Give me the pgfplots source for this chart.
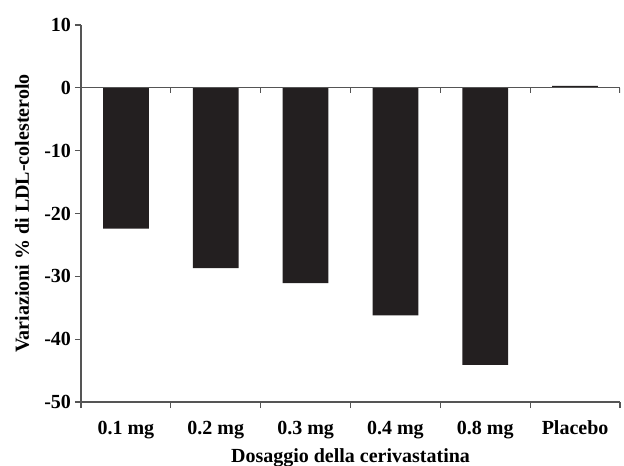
\documentclass[border=0pt]{standalone}
\usepackage{fontspec}
\setmainfont{Liberation Serif}
\usepackage{pgfplots}
\pgfplotsset{compat=1.18}
\definecolor{barfill}{HTML}{231F20}
\definecolor{axisgray}{HTML}{555555}
\begin{document}
\begin{tikzpicture}
\begin{axis}[
    scale only axis,
    width=269.5pt, height=188.5pt,
    ybar, bar width=0.51,
    xmin=-0.5, xmax=5.5,
    ymin=-50, ymax=10,
    axis x line*=bottom, axis y line*=left,
    axis line style={axisgray, line width=0.6pt},
    tick style={axisgray, line width=0.6pt},
    tick align=outside,
    major tick length=3pt,
    xtick={-0.5,0.5,1.5,2.5,3.5,4.5,5.5}, xticklabels={,,,,,,},
    extra x ticks={0,1,2,3,4,5},
    extra x tick labels={0.1 mg,0.2 mg,0.3 mg,0.4 mg,0.8 mg,Placebo},
    extra x tick style={major tick length=0pt, xticklabel style={yshift=-6pt}},
    ytick={-50,-40,...,10},
    yticklabels={-50,-40,-30,-20,-10,0,10},
    yticklabel style={xshift=1.5pt},
    ticklabel style={font=\bfseries\fontsize{10}{12}\selectfont},
    label style={font=\bfseries\fontsize{10}{12}\selectfont},
    xlabel={Dosaggio della cerivastatina},
    ylabel={Variazioni \% di LDL-colesterolo},
    xlabel style={at={(axis description cs:0.5,-0.148)}, anchor=center},
    ylabel style={at={(axis description cs:-0.1095,0.5)}, anchor=center},
]
\addplot[fill=barfill, draw=none] coordinates {
    (0,-22.4) (1,-28.7) (2,-31.1) (3,-36.2) (4,-44.1) (5,0.3)
};
\draw[axisgray, line width=0.6pt] (axis cs:-0.5,0) -- (axis cs:5.5,0);
\pgfplotsinvokeforeach{0.5,1.5,2.5,3.5,4.5,5.5}{
    \draw[axisgray, line width=0.6pt] (axis cs:#1,0) -- ([yshift=-2.5pt]axis cs:#1,0);
}
\coordinate (bl) at (rel axis cs:0,0);
\coordinate (tr) at (rel axis cs:1,1);
\end{axis}
\pgfresetboundingbox
\path ([shift={(-40.5pt,-31.5pt)}]bl) rectangle ([shift={(2pt,12.5pt)}]tr);
\end{tikzpicture}
\end{document}
